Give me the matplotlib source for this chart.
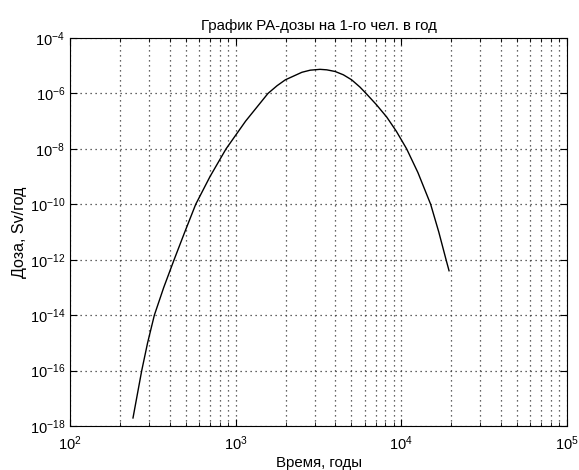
import numpy as np
import matplotlib
matplotlib.use('Agg')
import matplotlib.pyplot as plt
from matplotlib.ticker import LogLocator, NullLocator, NullFormatter

plt.rcParams['font.family'] = ['Liberation Sans', 'DejaVu Sans']
plt.rcParams['mathtext.fontset'] = 'custom'
plt.rcParams['mathtext.rm'] = 'Liberation Sans'
plt.rcParams['mathtext.it'] = 'Liberation Sans'
plt.rcParams['mathtext.default'] = 'regular'

# время, годы
years = [240, 271, 294, 323, 368, 425, 493, 574, 700, 875, 1148, 1567,
         1778, 1995, 2512, 2818, 3228, 3548, 3981, 4467, 5012, 5623,
         6124, 7079, 8166, 9333, 10765, 12589, 15031, 16827, 18621, 19409]
# доза, Sv/год
dose = [1.95e-18, 1e-16, 1e-15, 1e-14, 1e-13, 1e-12, 1e-11, 1e-10,
        1e-9, 1e-8, 1e-7, 1e-6, 1.9e-6, 3.1e-6, 5.8e-6, 6.9e-6, 7.4e-6,
        7.1e-6, 6.2e-6, 4.7e-6, 3.1e-6, 1.7e-6, 1e-6, 3.9e-7, 1.4e-7,
        4.3e-8, 1e-8, 1.4e-9, 1e-10, 1e-11, 1e-12, 4e-13]

y_ticks = [1e-18, 1e-16, 1e-14, 1e-12, 1e-10, 1e-8, 1e-6, 1e-4]

fig = plt.figure(figsize=(5.79, 4.70), dpi=100)
ax = fig.add_axes([70/579, 1 - 426/470, 497/579, 388/470])

ax.plot(years, dose, color='black', linewidth=1.0)
ax.set_xscale('log')
ax.set_yscale('log')
ax.set_xlim(1e2, 1e5)
ax.set_ylim(1e-18, 1e-4)

ax.xaxis.set_major_locator(LogLocator(base=10, numticks=10))
ax.xaxis.set_minor_locator(LogLocator(base=10, subs=np.arange(2, 10), numticks=20))
ax.xaxis.set_minor_formatter(NullFormatter())
ax.set_yticks(y_ticks)
ax.yaxis.set_minor_locator(NullLocator())

grid_style = dict(linestyle=(0, (1, 3)), color='#333333', linewidth=0.9)
ax.grid(True, which='major', **grid_style)
ax.grid(True, which='minor', axis='x', **grid_style)

ax.tick_params(which='both', direction='in', top=True, right=True,
               labelsize=10.5, color='black')
ax.tick_params(which='major', length=5)
ax.tick_params(which='minor', length=3)
ax.tick_params(axis='x', pad=6)
for s in ax.spines.values():
    s.set_linewidth(0.8)

ax.set_title('График РА-дозы на 1-го чел. в год', fontsize=10.8, pad=6)
ax.set_xlabel('Время, годы', fontsize=10.8, labelpad=2)
ax.set_ylabel('Доза, Sv/год', fontsize=11.5, labelpad=2)

fig.savefig('out.png', dpi=100)
